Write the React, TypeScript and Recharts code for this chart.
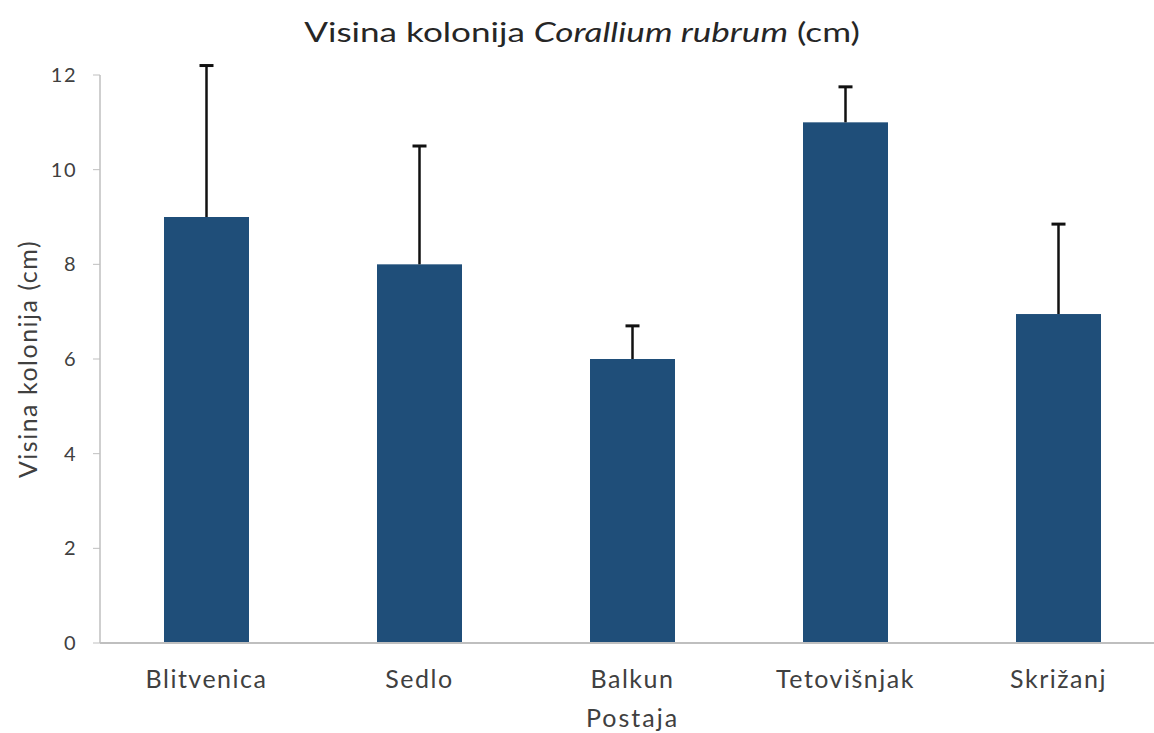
import React from "react";
import { BarChart, Bar, XAxis, YAxis } from "recharts";

// postaje i izmjerene visine (cm), SD gore
const stations = ["Blitvenica", "Sedlo", "Balkun", "Tetovišnjak", "Skrižanj"];
const heights = [9, 8, 6, 11, 6.95];
const errors = [3.2, 2.5, 0.7, 0.75, 1.9];
const yTicks = [0, 2, 4, 6, 8, 10, 12];

const FONT = "Lato, 'Open Sans', sans-serif";
const BAR = "#1f4e79";
const AXIS = "#bfbfbf";
const TEXT = "#404040";

const data = stations.map((name, i) => ({
  name,
  value: heights[i],
  err: errors[i],
}));

// stupac + gornji error bar, px po jedinici iz visine stupca
const BarWithError = (props: any) => {
  const { x, y, width, height, payload } = props;
  const perUnit = payload.value ? height / payload.value : 0;
  const top = y - payload.err * perUnit;
  const cx = x + width / 2;
  return (
    <g>
      <rect x={x} y={y} width={width} height={height} fill={BAR} />
      <line x1={cx} y1={y} x2={cx} y2={top} stroke="#111" strokeWidth={2.5} />
      <line x1={cx - 7} y1={top} x2={cx + 7} y2={top} stroke="#111" strokeWidth={3} />
    </g>
  );
};

const YLabel = ({ viewBox }: any) => {
  const cx = 27;
  const cy = viewBox.y + viewBox.height / 2;
  return (
    <text
      x={cx}
      y={cy}
      transform={`rotate(-90, ${cx}, ${cy})`}
      textAnchor="middle"
      dominantBaseline="central"
      fontSize={25}
      letterSpacing={1.5}
      fill={TEXT}
      fontFamily={FONT}
    >
      Visina kolonija (cm)
    </text>
  );
};

export default function App() {
  return (
    <div
      style={{
        position: "absolute",
        left: 0,
        top: 0,
        width: 1154,
        height: 733,
        overflow: "hidden",
        background: "#fff",
        fontFamily: FONT,
      }}
    >
      <div
        style={{
          position: "absolute",
          top: 16,
          left: 0,
          width: 1164,
          textAlign: "center",
          fontSize: 27,
          lineHeight: "32px",
          color: "#262626",
          transform: "scaleX(1.3)",
          transformOrigin: "582px 0",
        }}
      >
        Visina kolonija <i>Corallium rubrum</i> (cm)
      </div>
      <BarChart
        width={1180}
        height={733}
        data={data}
        margin={{ top: 75, right: 15, left: 0, bottom: 0 }}
        barSize={85}
      >
        <XAxis
          dataKey="name"
          height={90}
          axisLine={{ stroke: AXIS, strokeWidth: 2 }}
          tickLine={false}
          tickSize={0}
          tickMargin={27}
          tick={{ fontSize: 25, fill: TEXT, fontFamily: FONT, letterSpacing: 1.5 }}
          label={{
            value: "Postaja",
            position: "insideBottom",
            offset: 6,
            fontSize: 25,
            fill: TEXT,
            fontFamily: FONT,
            letterSpacing: 2,
          }}
        />
        <YAxis
          width={100}
          domain={[0, 12]}
          ticks={yTicks}
          interval={0}
          axisLine={{ stroke: AXIS, strokeWidth: 1.5 }}
          tickLine={{ stroke: AXIS }}
          tickSize={7}
          tickMargin={16}
          tick={{ fontSize: 20, fill: TEXT, fontFamily: FONT, letterSpacing: 1.5 }}
          label={<YLabel />}
        />
        <Bar dataKey="value" fill={BAR} shape={<BarWithError />} isAnimationActive={false} />
      </BarChart>
    </div>
  );
}
